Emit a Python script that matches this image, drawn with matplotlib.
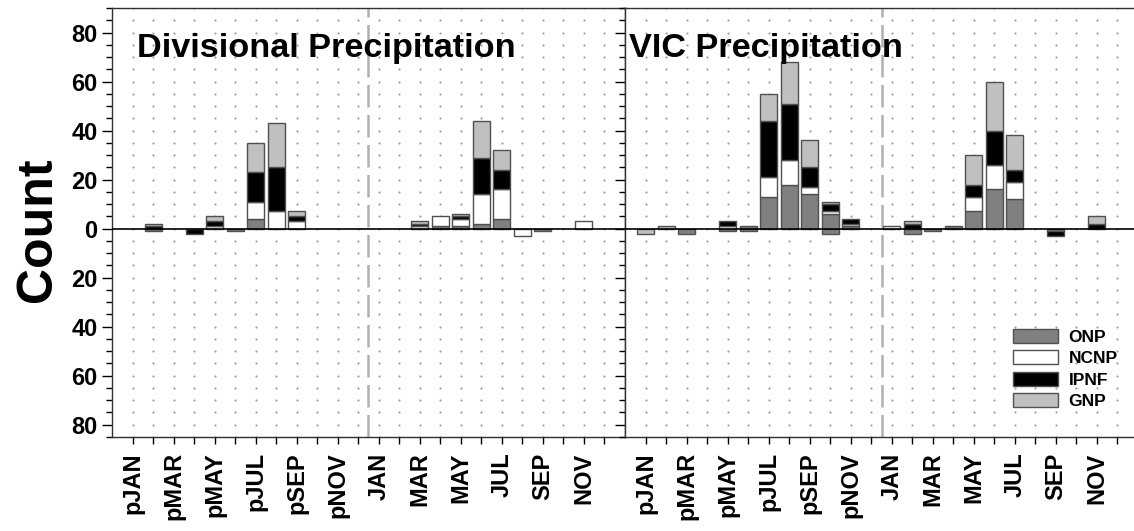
import numpy as np
import matplotlib.pyplot as plt
from matplotlib.ticker import MultipleLocator, FuncFormatter

plt.rcParams['font.family'] = ['Liberation Sans', 'DejaVu Sans']
plt.rcParams['font.weight'] = 'bold'

# 24 months: previous year (p) then current year
months = ['pJAN', 'pFEB', 'pMAR', 'pAPR', 'pMAY', 'pJUN', 'pJUL', 'pAUG',
          'pSEP', 'pOCT', 'pNOV', 'pDEC', 'JAN', 'FEB', 'MAR', 'APR',
          'MAY', 'JUN', 'JUL', 'AUG', 'SEP', 'OCT', 'NOV', 'DEC']

series = ['ONP', 'NCNP', 'IPNF', 'GNP']
colors = ['#808080', '#ffffff', '#000000', '#c0c0c0']

# Divisional precipitation, counts above (positive) and below (negative) zero
div_onp_pos  = [0, 0, 0, 0, 0, 0, 4, 0, 0, 0, 0, 0, 0, 0, 0, 1, 1, 2, 4, 0, 0, 0, 0, 0]
div_ncnp_pos = [0, 0, 0, 0, 1, 0, 7, 7, 3, 0, 0, 0, 0, 0, 1, 4, 3, 12, 12, 0, 0, 0, 3, 0]
div_ipnf_pos = [0, 1, 0, 0, 2, 0, 12, 18, 2, 0, 0, 0, 0, 0, 1, 0, 1, 15, 8, 0, 0, 0, 0, 0]
div_gnp_pos  = [0, 1, 0, 0, 2, 0, 12, 18, 2, 0, 0, 0, 0, 0, 1, 0, 1, 15, 8, 0, 0, 0, 0, 0]
div_onp_neg  = [0, 1, 0, 0, 0, 1, 0, 0, 0, 0, 0, 0, 0, 0, 0, 0, 0, 0, 0, 0, 1, 0, 0, 0]
div_ncnp_neg = [0, 0, 0, 0, 0, 0, 0, 0, 0, 0, 0, 0, 0, 0, 0, 0, 0, 0, 0, 3, 0, 0, 0, 0]
div_ipnf_neg = [0, 0, 0, 2, 0, 0, 0, 0, 0, 0, 0, 0, 0, 0, 0, 0, 0, 0, 0, 0, 0, 0, 0, 0]
div_gnp_neg  = [0] * 24

# VIC precipitation
vic_onp_pos  = [0, 0, 0, 0, 0, 1, 13, 18, 14, 6, 1, 0, 0, 0, 0, 1, 7, 16, 12, 0, 0, 0, 0, 0]
vic_ncnp_pos = [0, 0, 0, 0, 1, 0, 8, 10, 3, 1, 1, 0, 1, 0, 0, 0, 6, 10, 7, 0, 0, 0, 0, 0]
vic_ipnf_pos = [0, 0, 0, 0, 2, 0, 23, 23, 8, 3, 2, 0, 0, 2, 0, 0, 5, 14, 5, 0, 0, 0, 2, 0]
vic_gnp_pos  = [0, 1, 0, 0, 0, 0, 11, 17, 11, 1, 0, 0, 0, 1, 0, 0, 12, 20, 14, 0, 0, 0, 3, 0]
vic_onp_neg  = [0, 0, 2, 0, 1, 1, 0, 0, 0, 2, 0, 0, 0, 2, 1, 0, 0, 0, 0, 0, 1, 0, 0, 0]
vic_ncnp_neg = [0] * 24
vic_ipnf_neg = [0, 0, 0, 0, 0, 0, 0, 0, 0, 0, 0, 0, 0, 0, 0, 0, 0, 0, 0, 0, 2, 0, 0, 0]
vic_gnp_neg  = [2, 0, 0, 0, 0, 0, 0, 0, 0, 0, 0, 0, 0, 0, 0, 0, 0, 0, 0, 0, 0, 0, 0, 0]

panels = [
    ('Divisional Precipitation',
     [div_onp_pos, div_ncnp_pos, div_ipnf_pos, div_gnp_pos],
     [div_onp_neg, div_ncnp_neg, div_ipnf_neg, div_gnp_neg]),
    ('VIC Precipitation',
     [vic_onp_pos, vic_ncnp_pos, vic_ipnf_pos, vic_gnp_pos],
     [vic_onp_neg, vic_ncnp_neg, vic_ipnf_neg, vic_gnp_neg]),
]

fig = plt.figure(figsize=(11.34, 5.31), dpi=100)
W, H = 1134, 531
ax_w = 513 / W
ax_b = (H - 437) / H
ax_h = 429 / H
axes = [fig.add_axes([112 / W, ax_b, ax_w, ax_h]),
        fig.add_axes([625 / W, ax_b, ax_w, ax_h])]

x = np.arange(len(months))
bar_w = 0.83
edge = '#505050'

for i, (ax, (title, pos, neg)) in enumerate(zip(axes, panels)):
    ax.set_xlim(-1, 24)
    ax.set_ylim(-85, 90)

    # dot grid at every month and every 5 counts
    gx, gy = np.meshgrid(x, np.arange(-85, 91, 5))
    ax.scatter(gx.ravel(), gy.ravel(), s=2.5, color='#a0a0a0', lw=0, zorder=0)

    # split between previous and current year
    ax.axvline(11.5, color='#b0b0b0', lw=1.8, ls=(0, (9, 3)), zorder=1)
    ax.axhline(0, color='black', lw=1.2, zorder=3)

    bottom_p = np.zeros(len(months))
    bottom_n = np.zeros(len(months))
    for name, c, vp, vn in zip(series, colors, pos, neg):
        vp = np.array(vp, dtype=float)
        vn = -np.array(vn, dtype=float)
        kp = vp != 0
        kn = vn != 0
        ax.bar(x[kp], vp[kp], bar_w, bottom=bottom_p[kp], color=c,
               edgecolor=edge, lw=1, label=name, zorder=2)
        ax.bar(x[kn], vn[kn], bar_w, bottom=bottom_n[kn], color=c,
               edgecolor=edge, lw=1, zorder=2)
        bottom_p += vp
        bottom_n += vn

    ax.text(0.049 if i == 0 else 0.008, 0.886, title, transform=ax.transAxes,
            fontsize=24.7, fontweight='bold', va='baseline', ha='left')

    ax.yaxis.set_major_locator(MultipleLocator(20))
    ax.yaxis.set_minor_locator(MultipleLocator(5))
    ax.yaxis.set_major_formatter(FuncFormatter(lambda v, p: f'{abs(int(v))}'))
    ax.set_xticks(x)
    ax.set_xticklabels([m if k % 2 == 0 else '' for k, m in enumerate(months)],
                       rotation=90, fontsize=17, fontweight='bold')
    ax.tick_params(axis='x', direction='out', length=5, width=1, pad=6)
    ax.tick_params(axis='y', which='major', direction='out', length=7, width=1,
                   labelsize=17)
    ax.tick_params(axis='y', which='minor', direction='out', length=4, width=1)
    for s in ax.spines.values():
        s.set_linewidth(1)
        s.set_color('#303030')
    if i == 1:
        ax.tick_params(axis='y', labelleft=False)
        ax.legend(loc='upper left', bbox_to_anchor=(0.756, 0.252),
                  frameon=False, fontsize=12.5, handlelength=2.6,
                  handleheight=0.85, labelspacing=0.32, borderpad=0,
                  borderaxespad=0, handletextpad=0.6)

fig.text(38 / W, 1 - 230 / H, 'Count', rotation=90, fontsize=36,
         fontweight='bold', ha='center', va='center')

fig.savefig('out.png', dpi=100)
